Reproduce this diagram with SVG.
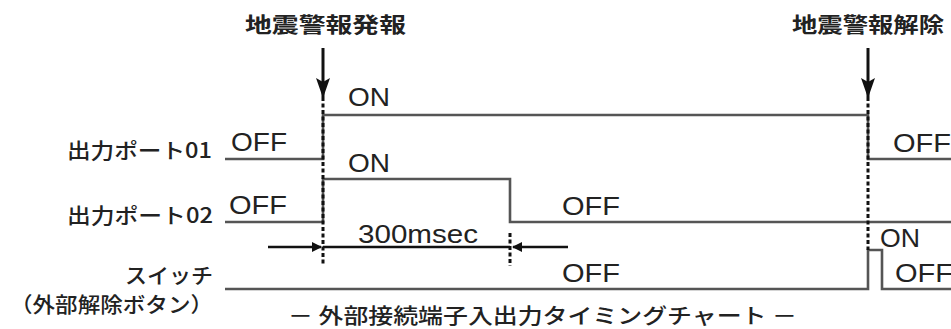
<svg xmlns="http://www.w3.org/2000/svg" width="951" height="329" viewBox="0 0 951 329">
<defs>
<marker id="ah" markerWidth="10" markerHeight="10" refX="9" refY="5" orient="auto" markerUnits="userSpaceOnUse" viewBox="0 0 10 10"><path d="M0,0 L10,5 L0,10 z" fill="#111"/></marker>
<marker id="ahBig" markerWidth="20" markerHeight="14" refX="19" refY="7" orient="auto" markerUnits="userSpaceOnUse" viewBox="0 0 20 14"><path d="M0,0 L20,7 L0,14 L4,7 z" fill="#111"/></marker>
</defs>
<style>
.jp{font-family:"Noto Sans CJK JP","Noto Sans",sans-serif;fill:#222;font-size:21px;font-weight:500}
.tt{font-weight:bold}
.en{font-family:"Liberation Sans",Arial,sans-serif;fill:#222;font-size:25px}
.sig{fill:none;stroke:#555;stroke-width:2.6}
.dash{fill:none;stroke:#111;stroke-width:3;stroke-dasharray:4 2.5}
.dim{fill:none;stroke:#111;stroke-width:2.5}
.evt{fill:none;stroke:#111;stroke-width:3}
</style>
<rect width="951" height="329" fill="#fff"/>

<g id="title-start"><text class="jp tt" x="245" y="32" textLength="161" lengthAdjust="spacingAndGlyphs">地震警報発報</text></g>
<g id="title-end"><text class="jp tt" x="792" y="32" textLength="152" lengthAdjust="spacingAndGlyphs">地震警報解除</text></g>

<g id="label-port01"><text class="jp" x="67" y="158" textLength="145" lengthAdjust="spacingAndGlyphs">出力ポート01</text></g>
<g id="label-port02"><text class="jp" x="67" y="223" textLength="146" lengthAdjust="spacingAndGlyphs">出力ポート02</text></g>
<g id="label-switch">
<text class="jp" x="125" y="283" textLength="88" lengthAdjust="spacingAndGlyphs">スイッチ</text>
<text class="jp" x="10" y="312" textLength="203" lengthAdjust="spacingAndGlyphs">（外部解除ボタン）</text>
</g>
<g id="caption"><text class="jp" x="288" y="323" font-size="20" textLength="509" lengthAdjust="spacingAndGlyphs">－ 外部接続端子入出力タイミングチャート －</text></g>

<g id="connectors">
<line class="evt" x1="323" y1="48" x2="323" y2="97" marker-end="url(#ahBig)"/>
<line class="evt" x1="868" y1="48" x2="868" y2="97" marker-end="url(#ahBig)"/>
<polyline class="sig" points="225,159 323,159 323,115 868,115 868,159 951,159"/>
<polyline class="sig" points="225,222 323,222 323,179 510,179 510,222 951,222"/>
<polyline class="sig" points="225,289 868,289 868,250 882,250 882,289 951,289"/>
<line class="dash" x1="323" y1="97" x2="323" y2="266"/>
<line class="dash" x1="868" y1="97" x2="868" y2="250"/>
<line class="dash" x1="510" y1="233" x2="510" y2="266"/>
<line class="dim" x1="268" y1="247" x2="321" y2="247" marker-end="url(#ah)"/>
<line class="dim" x1="323" y1="247" x2="510" y2="247"/>
<line class="dim" x1="568" y1="247" x2="513" y2="247" marker-end="url(#ah)"/>
</g>

<g id="state-labels">
<text class="en" x="348" y="106" textLength="42" lengthAdjust="spacingAndGlyphs">ON</text>
<text class="en" x="231" y="151" textLength="56" lengthAdjust="spacingAndGlyphs">OFF</text>
<text class="en" x="348" y="172" textLength="42" lengthAdjust="spacingAndGlyphs">ON</text>
<text class="en" x="229" y="214" textLength="58" lengthAdjust="spacingAndGlyphs">OFF</text>
<text class="en" x="358" y="243" textLength="120" lengthAdjust="spacingAndGlyphs">300msec</text>
<text class="en" x="562" y="215" textLength="58" lengthAdjust="spacingAndGlyphs">OFF</text>
<text class="en" x="562" y="282" textLength="58" lengthAdjust="spacingAndGlyphs">OFF</text>
<text class="en" x="893" y="152" textLength="58" lengthAdjust="spacingAndGlyphs">OFF</text>
<text class="en" x="880" y="247" textLength="40" lengthAdjust="spacingAndGlyphs">ON</text>
<text class="en" x="895" y="282" textLength="58" lengthAdjust="spacingAndGlyphs">OFF</text>
</g>
</svg>
